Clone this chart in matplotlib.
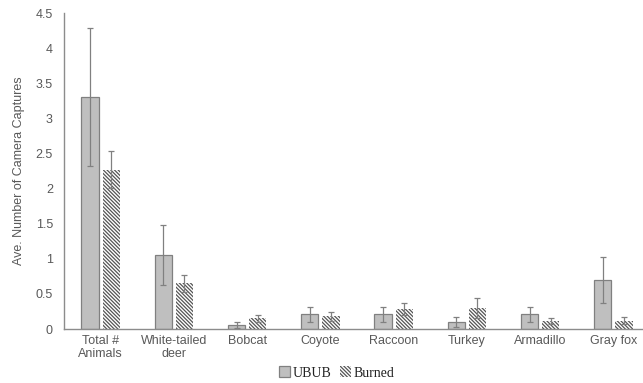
import numpy as np
import matplotlib
matplotlib.use('Agg')
import matplotlib.pyplot as plt

# 数据
categories = ['Total #\nAnimals', 'White-tailed\ndeer', 'Bobcat', 'Coyote',
              'Raccoon', 'Turkey', 'Armadillo', 'Gray fox']
ubub_mean = [3.30, 1.05, 0.06, 0.21, 0.21, 0.10, 0.21, 0.70]
ubub_err = [0.98, 0.43, 0.04, 0.11, 0.11, 0.07, 0.11, 0.33]
burned_mean = [2.27, 0.65, 0.15, 0.18, 0.285, 0.30, 0.11, 0.12]
burned_err = [0.26, 0.12, 0.05, 0.06, 0.09, 0.14, 0.04, 0.05]
yticks = [0, 0.5, 1, 1.5, 2, 2.5, 3, 3.5, 4, 4.5]

plt.rcParams['font.family'] = ['Liberation Sans', 'DejaVu Sans']
plt.rcParams['hatch.linewidth'] = 0.9
plt.rcParams['hatch.color'] = '#555555'

txt = '#595959'
fig = plt.figure(figsize=(6.43, 3.83), dpi=100)
ax = fig.add_axes([64 / 643, 54 / 383, 586 / 643, 316 / 383])

x = np.arange(len(categories))
w = 0.235
off = 0.145
ax.bar(x - off, ubub_mean, w, color='#bfbfbf', edgecolor='#808080', linewidth=0.9,
       label='UBUB', zorder=2)
ax.bar(x + off, burned_mean, w, color='white', edgecolor='#555555', linewidth=0,
       hatch='\\' * 9, label='Burned', zorder=2)
ax.errorbar(x - off, ubub_mean, yerr=ubub_err, fmt='none', ecolor='#808080',
            elinewidth=0.9, capsize=2.5, capthick=0.9, zorder=3)
ax.errorbar(x + off, burned_mean, yerr=burned_err, fmt='none', ecolor='#808080',
            elinewidth=0.9, capsize=2.5, capthick=0.9, zorder=3)

ax.set_xlim(-0.5, 7.5)
ax.set_ylim(0, 4.5)
ax.set_yticks(yticks)
ax.set_yticklabels(['%g' % v for v in yticks])
ax.set_xticks(x)
ax.set_xticklabels(categories)
ax.tick_params(length=0, colors=txt, labelsize=9, pad=4)
ax.tick_params(axis='y', pad=8)
for s in ['top', 'right']:
    ax.spines[s].set_visible(False)
for s in ['left', 'bottom']:
    ax.spines[s].set_color('#8c8c8c')
    ax.spines[s].set_linewidth(1.0)
ax.set_ylabel('Ave. Number of Camera Captures', color=txt, fontsize=9, labelpad=8)

leg = fig.legend(loc='center', bbox_to_anchor=(337 / 643, 1 - 373 / 383), ncol=2,
                 frameon=False, prop={'family': 'Liberation Serif', 'size': 10},
                 handlelength=0.8, handleheight=0.8, handletextpad=0.2,
                 columnspacing=0.6)
for t in leg.get_texts():
    t.set_color('#222222')

fig.savefig('out.png', dpi=100)
